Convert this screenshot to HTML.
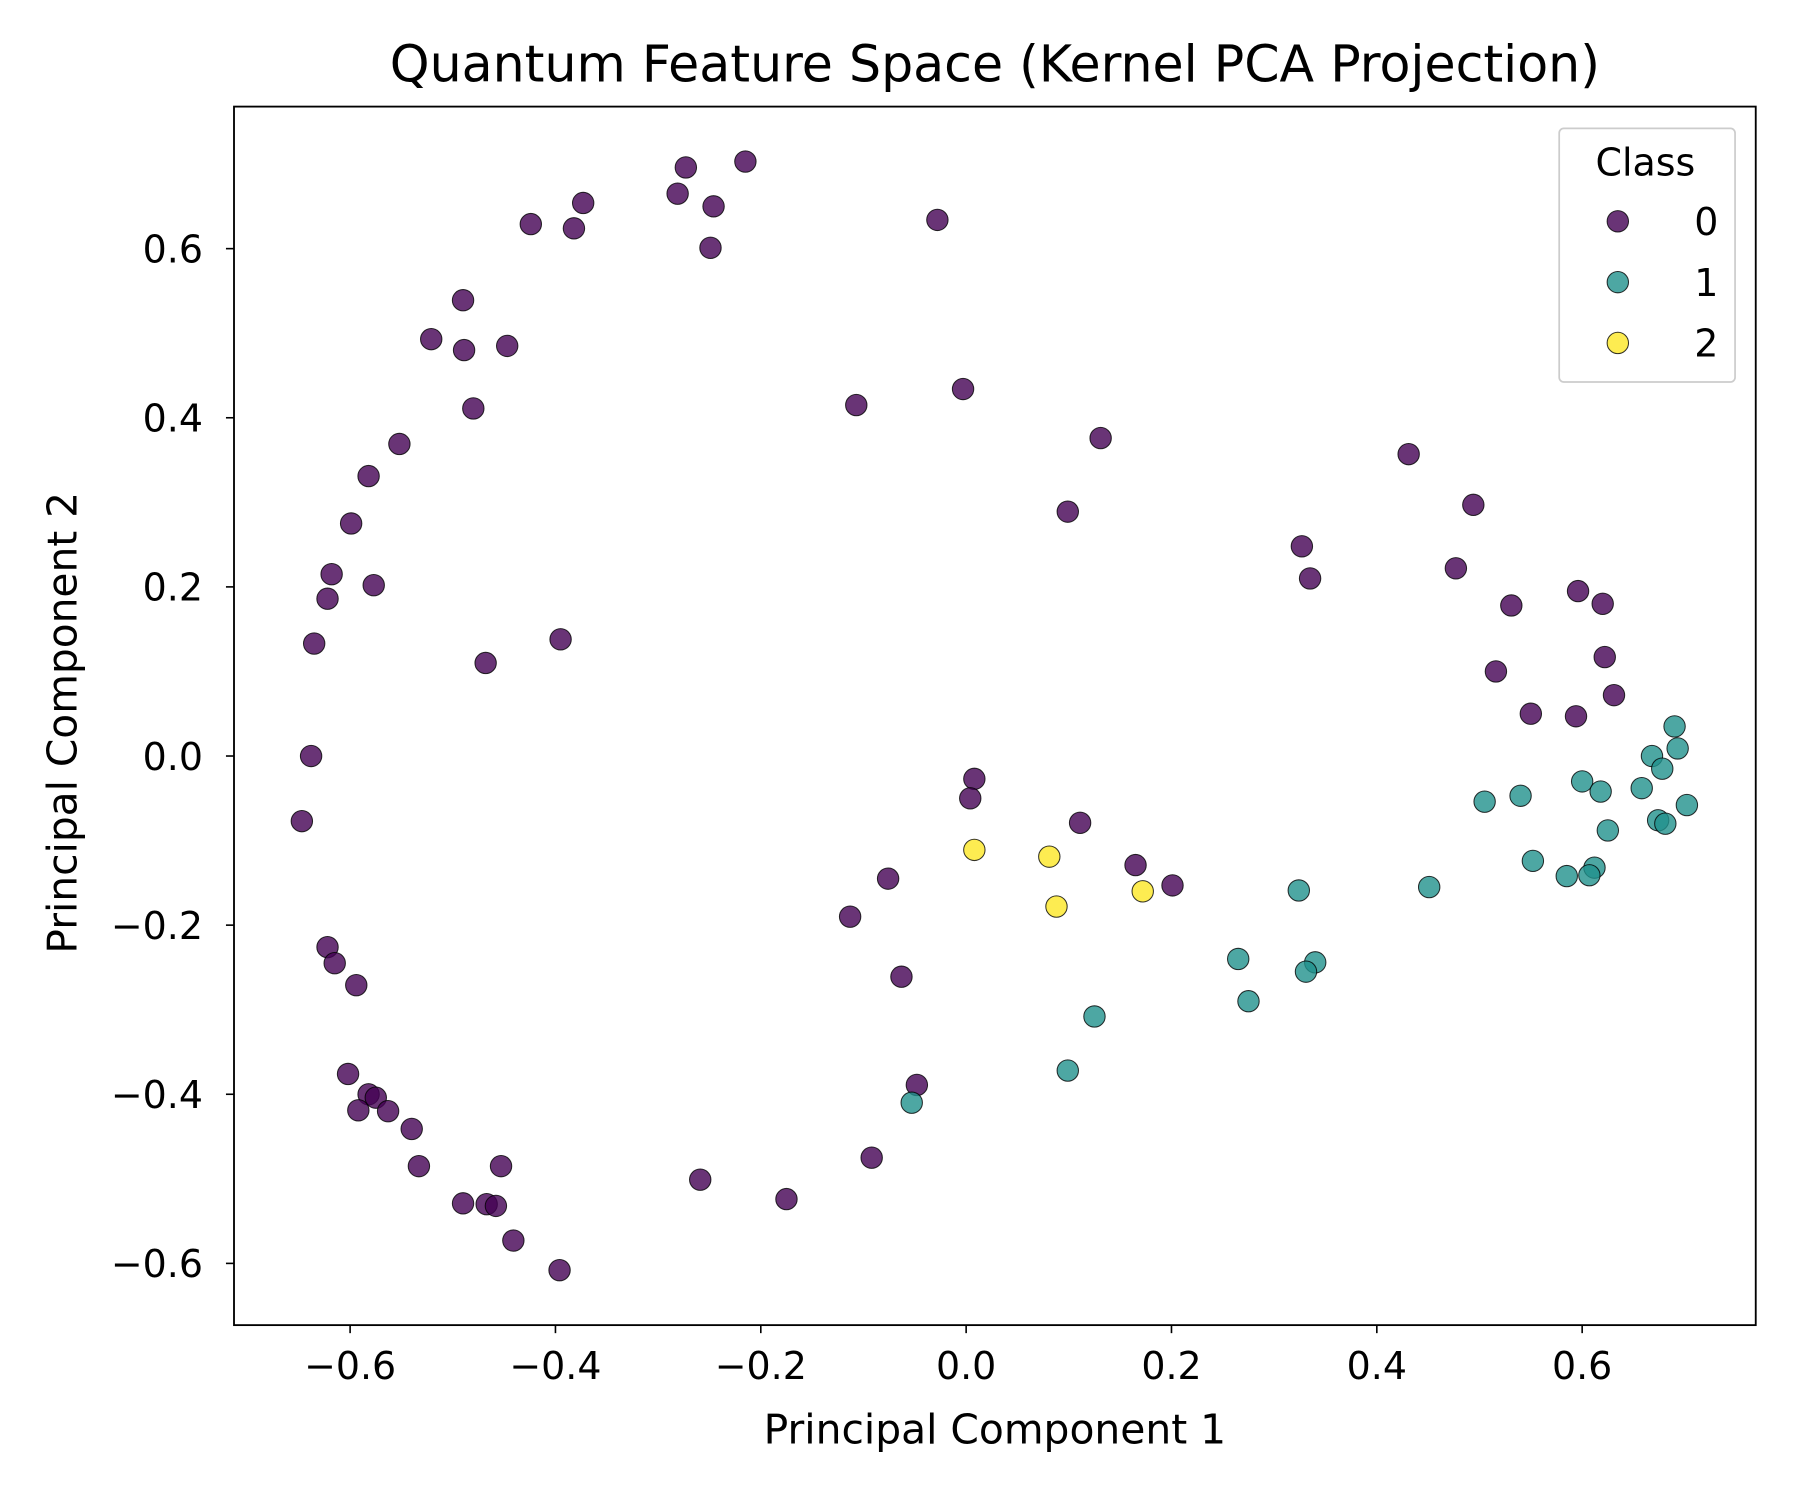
<!DOCTYPE html>
<html><head><meta charset="utf-8"><style>html,body{margin:0;padding:0;background:#fff}svg{display:block}text{font-family:"DejaVu Sans","Liberation Sans",sans-serif;fill:#000}</style></head>
<body>
<svg id="chart" width="1800" height="1500" viewBox="0 0 1560 1300" xmlns="http://www.w3.org/2000/svg">
<rect width="1560" height="1300" fill="#fff"/>
<g transform="matrix(0.9961 0 0 0.9944 -0.4 0.9)">
<text x="866" y="70" font-size="44" text-anchor="middle">Quantum Feature Space (Kernel PCA Projection)</text>
<g id="ticks"></g>
<g id="points"></g>
<rect x="204" y="92" width="1324" height="1062" fill="none" stroke="#000" stroke-width="1.6"/>
<text x="866" y="1257" font-size="35.5" text-anchor="middle">Principal Component 1</text>
<text transform="translate(67,629) rotate(-90)" font-size="35.5" text-anchor="middle">Principal Component 2</text>
<g>
<rect x="1357" y="111" width="153" height="221" rx="4" fill="#fff" fill-opacity="0.8" stroke="#ccc" stroke-width="1.5"/>
<text x="1432" y="152" font-size="33" text-anchor="middle">Class</text>
<g id="legend-entries"></g>
</g>
</g>
</svg>
<script>
const class0X=[-0.273,-0.215,-0.281,-0.246,-0.249,-0.373,-0.382,-0.424,-0.028,-0.490,-0.521,-0.489,-0.447,-0.480,-0.552,-0.582,-0.599,-0.618,-0.577,-0.622,-0.635,-0.468,-0.395,-0.107,-0.003,0.131,0.099,0.431,0.494,0.327,0.335,0.477,0.531,0.596,0.620,0.622,0.516,0.631,0.550,0.594,-0.638,-0.647,0.008,0.004,0.111,0.165,0.201,-0.076,-0.113,-0.063,-0.048,-0.622,-0.615,-0.594,-0.602,-0.582,-0.575,-0.592,-0.563,-0.540,-0.533,-0.453,-0.490,-0.467,-0.458,-0.441,-0.396,-0.259,-0.175,-0.092];
const class0Y=[0.696,0.703,0.665,0.650,0.601,0.654,0.624,0.629,0.634,0.539,0.493,0.480,0.485,0.411,0.369,0.331,0.275,0.215,0.202,0.186,0.133,0.110,0.138,0.415,0.434,0.376,0.289,0.357,0.297,0.248,0.210,0.222,0.178,0.195,0.180,0.117,0.100,0.072,0.050,0.047,0.000,-0.077,-0.027,-0.050,-0.079,-0.129,-0.153,-0.145,-0.190,-0.261,-0.389,-0.226,-0.245,-0.271,-0.376,-0.400,-0.404,-0.419,-0.420,-0.441,-0.485,-0.485,-0.529,-0.530,-0.532,-0.573,-0.608,-0.501,-0.524,-0.475];
const class1X=[0.690,0.693,0.668,0.678,0.658,0.600,0.618,0.505,0.540,0.702,0.674,0.681,0.625,0.612,0.607,0.585,0.552,0.451,0.324,0.265,0.340,0.331,0.275,0.125,0.099,-0.053];
const class1Y=[0.035,0.009,0.000,-0.015,-0.038,-0.030,-0.042,-0.054,-0.047,-0.058,-0.076,-0.080,-0.088,-0.132,-0.141,-0.142,-0.124,-0.155,-0.159,-0.240,-0.244,-0.255,-0.290,-0.308,-0.372,-0.410];
const class2X=[0.008,0.081,0.088,0.172];
const class2Y=[-0.111,-0.119,-0.178,-0.160];
const xTicks=[-0.6,-0.4,-0.2,0.0,0.2,0.4,0.6];
const yTicks=[-0.6,-0.4,-0.2,0.0,0.2,0.4,0.6];
const classLabels=["0","1","2"];
const classColors=["#440154","#21918c","#fde725"];

const NS="http://www.w3.org/2000/svg";
function sx(v){return 841+v*893.3;}
function sy(v){return 658-v*737;}
function fmt(v){return (v<0?"\u2212":"")+Math.abs(v).toFixed(1);}
function mk(tag,attrs){const e=document.createElementNS(NS,tag);for(const k in attrs)e.setAttribute(k,attrs[k]);return e;}
const tg=document.getElementById('ticks');
xTicks.forEach(t=>{
  const l=mk('line',{x1:sx(t),x2:sx(t),y1:1154,y2:1161,stroke:'#000','stroke-width':1.4});
  
  
  tg.appendChild(l);
  const tx=mk('text',{x:sx(t),y:1201,'font-size':33,'text-anchor':'middle'});
  tx.textContent=fmt(t);
  
  
  tg.appendChild(tx);
});
yTicks.forEach(t=>{
  const l=mk('line',{x1:197,x2:204,y1:sy(t),y2:sy(t),stroke:'#000','stroke-width':1.4});
  
  
  tg.appendChild(l);
  const tx=mk('text',{x:177,y:sy(t)+12,'font-size':33,'text-anchor':'end'});
  tx.textContent=fmt(t);
  
  
  tg.appendChild(tx);
});
const pg=document.getElementById('points');
[[class0X,class0Y],[class1X,class1Y],[class2X,class2Y]].forEach((s,ci)=>{
  s[0].forEach((x,i)=>{
    const c=mk('circle',{cx:sx(x),cy:sy(s[1][i]),r:9.3,fill:classColors[ci],'fill-opacity':0.8,stroke:'#000','stroke-opacity':0.8,'stroke-width':0.9});
    
    
    pg.appendChild(c);
  });
});
const lg=document.getElementById('legend-entries');
classLabels.forEach((lab,i)=>{
  const y=192+i*53;
  const c=mk('circle',{cx:1408,cy:y,r:9.3,fill:classColors[i],'fill-opacity':0.8,stroke:'#000','stroke-opacity':0.8,'stroke-width':0.9});
  
  
  lg.appendChild(c);
  const t=mk('text',{x:1485,y:y+12,'font-size':33,'text-anchor':'middle'});
  t.textContent=lab;
  
  
  lg.appendChild(t);
});
</script>
</body></html>
